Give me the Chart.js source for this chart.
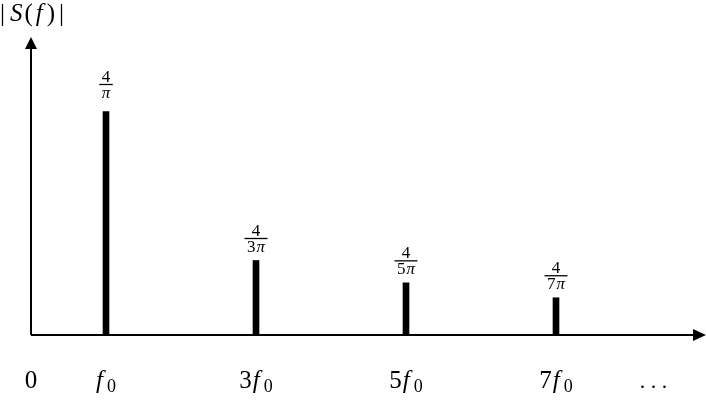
<!DOCTYPE html>
<html>
<head>
<meta charset="utf-8">
<script src="https://cdn.jsdelivr.net/npm/chart.js@4.4.0/dist/chart.umd.min.js"></script>
<style>
  html, body { margin: 0; padding: 0; background: #fff; }
  canvas { display: block; }
</style>
</head>
<body>
<canvas id="spectre" width="706" height="401"></canvas>
<script>
// harmonics of the square wave (multiples of f0) and the drawn bar heights
var harmoniques = [1, 3, 5, 7];
var amplitudes = [3, 1, 0.7, 0.5];
// fraction labels above each bar : 4 / (n pi)
var numerateurs = ['4', '4', '4', '4'];
var coefDenominateurs = ['', '3', '5', '7'];
// labels under the axis
var positionsTicks = [0, 1, 3, 5, 7, 8.3];
var coefTicks = ['0', '', '3', '5', '7', '...'];

var police = '"Liberation Serif", "DejaVu Serif", serif';

// draws "<coef>f0" with italic f and subscript 0 centred on x
function dessineFrequence(ctx, coef, x, y) {
    if (coef === '0' || coef === '...') {
        var txt = coef === '...' ? '. . .' : coef;
        ctx.font = (coef === '...' ? '22px ' : '25px ') + police;
        var w = ctx.measureText(txt).width;
        ctx.fillText(txt, x - w / 2, y);
        return;
    }
    ctx.font = '25px ' + police;
    var wc = ctx.measureText(coef).width + (coef ? 1 : 0);
    ctx.font = 'italic 25px ' + police;
    var wf = ctx.measureText('f').width + 4;
    ctx.font = '18px ' + police;
    var ws = ctx.measureText('0').width;
    var x0 = x - (wc + wf + ws) / 2;
    ctx.font = '25px ' + police;
    ctx.fillText(coef, x0, y);
    ctx.font = 'italic 25px ' + police;
    ctx.fillText('f', x0 + wc, y);
    ctx.font = '18px ' + police;
    ctx.fillText('0', x0 + wc + wf, y + 4);
}

var axesPlugin = {
    id: 'axes',
    afterDatasetsDraw: function(chart) {
        var ctx = chart.ctx;
        var xs = chart.scales.x, ys = chart.scales.y;
        var x0 = xs.getPixelForValue(0);
        var y0 = ys.getPixelForValue(0);
        var xmax = xs.getPixelForValue(xs.max);
        var ymax = ys.getPixelForValue(ys.max);
        ctx.save();
        ctx.strokeStyle = '#000';
        ctx.fillStyle = '#000';
        ctx.lineWidth = 2;
        // axis lines
        ctx.beginPath();
        ctx.moveTo(x0, y0);
        ctx.lineTo(xmax - 10, y0);
        ctx.moveTo(x0, y0);
        ctx.lineTo(x0, ymax + 10);
        ctx.stroke();
        // arrow heads
        ctx.beginPath();
        ctx.moveTo(xmax, y0);
        ctx.lineTo(xmax - 13, y0 - 6);
        ctx.lineTo(xmax - 13, y0 + 6);
        ctx.closePath();
        ctx.fill();
        ctx.beginPath();
        ctx.moveTo(x0, ymax);
        ctx.lineTo(x0 - 6, ymax + 12);
        ctx.lineTo(x0 + 6, ymax + 12);
        ctx.closePath();
        ctx.fill();

        // fraction labels above the bars
        ctx.textBaseline = 'alphabetic';
        harmoniques.forEach(function(h, i) {
            var bx = xs.getPixelForValue(h);
            var by = ys.getPixelForValue(amplitudes[i]);
            var ly = by - (i === 0 ? 27 : 22);
            ctx.font = '17px ' + police;
            var wn = ctx.measureText(numerateurs[i]).width;
            ctx.fillText(numerateurs[i], bx - wn / 2, ly - 3);
            var c = coefDenominateurs[i];
            var wc = ctx.measureText(c).width + (c ? 1 : 0);
            ctx.font = 'italic 17px ' + police;
            var wp = ctx.measureText('\u03c0').width;
            var wd = wc + wp;
            ctx.font = '17px ' + police;
            ctx.fillText(c, bx - wd / 2, ly + 13);
            ctx.font = 'italic 17px ' + police;
            ctx.fillText('\u03c0', bx - wd / 2 + wc, ly + 13);
            var lw = Math.max(wd, wn) + 5;
            ctx.lineWidth = 1.3;
            ctx.beginPath();
            ctx.moveTo(bx - lw / 2, ly);
            ctx.lineTo(bx + lw / 2, ly);
            ctx.stroke();
        });

        // frequency labels
        positionsTicks.forEach(function(p, i) {
            dessineFrequence(ctx, coefTicks[i], xs.getPixelForValue(p), 388);
        });

        // y title |S(f)|
        var morceaux = [['|', false, 5], ['S', true, 2], ['(', false, 3], ['f', true, 4], [')', false, 4], ['|', false, 0]];
        var tx = 0;
        morceaux.forEach(function(m) {
            ctx.font = (m[1] ? 'italic ' : '') + '25px ' + police;
            ctx.fillText(m[0], tx, 21);
            tx += ctx.measureText(m[0]).width + m[2];
        });
        ctx.restore();
    }
};

var ctx = document.getElementById('spectre');

var graphique = new Chart(ctx.getContext('2d'), {
    type: 'bar',
    data: {
        datasets: [{
            data: harmoniques.map(function(h, i) { return {x: h, y: amplitudes[i]}; }),
            backgroundColor: '#000',
            borderWidth: 0,
            barThickness: 6
        }]
    },
    options: {
        responsive: false,
        animation: false,
        devicePixelRatio: 1,
        layout: { padding: { left: 31, right: 0, top: 37, bottom: 66 } },
        plugins: { legend: { display: false }, tooltip: { enabled: false } },
        scales: {
            x: { type: 'linear', min: 0, max: 9, offset: false, display: false },
            y: { type: 'linear', min: 0, max: 4, display: false }
        }
    },
    plugins: [axesPlugin]
});
</script>
</body>
</html>
